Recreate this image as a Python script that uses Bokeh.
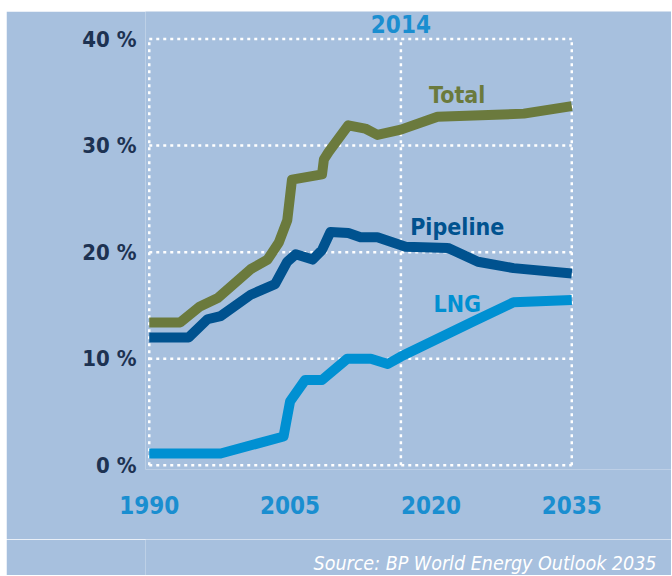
from bokeh.plotting import figure
from bokeh.models import Range1d, FixedTicker, Spacer, Column, Row
from bokeh.embed import file_html
from bokeh.resources import INLINE
from bokeh.core.properties import value

# ---- data (share of traded gas, % ) ----
total_years = [1990, 1993.3, 1995.4, 1997.3, 2000.8, 2002.6, 2003.8, 2004.7, 2005.2,
               2008.4, 2008.6, 2009.1, 2011.2, 2013.0, 2014.3, 2016.8, 2020.7, 2029.9, 2035]
total_vals = [13.4, 13.4, 14.9, 15.7, 18.4, 19.3, 20.9, 23.0, 26.8,
              27.3, 28.7, 29.4, 31.9, 31.6, 31.0, 31.5, 32.7, 33.0, 33.7]

pipeline_years = [1990, 1994.2, 1996.2, 1997.6, 2000.8, 2003.4, 2004.7, 2005.6, 2007.4,
                  2008.4, 2009.3, 2011.2, 2012.5, 2014.3, 2017.3, 2021.8, 2025.0, 2028.8, 2035]
pipeline_vals = [12.0, 12.0, 13.7, 14.0, 16.0, 17.0, 19.1, 19.8, 19.3,
                 20.2, 21.9, 21.8, 21.4, 21.4, 20.5, 20.4, 19.1, 18.5, 18.0]

lng_years = [1990, 1997.6, 2004.3, 2005.0, 2006.6, 2008.4, 2011.1, 2013.6, 2015.4,
             2016.8, 2024.5, 2028.8, 2035]
lng_vals = [1.1, 1.1, 2.7, 6.0, 8.0, 8.0, 10.0, 10.0, 9.5,
            10.2, 13.5, 15.3, 15.5]

x_ticks = [1990, 2005, 2020, 2035]
y_ticks = [0, 10, 20, 30, 40]
y_tick_labels = ["0 %", "10 %", "20 %", "30 %", "40 %"]
divider_label = "2014"
divider_x = 2016.8  # where the chart draws its "2014" divider
source_text = "Source: BP World Energy Outlook 2035"

# ---- styles ----
BG = "#a7c0de"
C_TOTAL = "#6b7a3d"
C_PIPE = "#00528f"
C_LNG = "#0090d2"
C_YLAB = "#1d3252"
C_XLAB = "#1a8ed0"
FONT = "DejaVu Sans Condensed"
DASH = "3 4"

# frame runs to the right edge of the panel; the visible plot ends at 2035
p = figure(width=665, height=528, output_backend="svg", toolbar_location=None,
           x_range=Range1d(1989.6, 2045.62), y_range=Range1d(-0.4, 42.585),
           min_border_left=139, min_border_right=0, min_border_top=0, min_border_bottom=70)
p.background_fill_color = BG
p.border_fill_color = BG
p.outline_line_color = None
p.grid.visible = False

# dotted grid
x0, x1 = x_ticks[0], x_ticks[-1]
p.segment(x0=[x0] * len(y_ticks), x1=[x1] * len(y_ticks), y0=y_ticks, y1=y_ticks,
          line_color="white", line_width=2.5, line_dash=DASH)
vx = [x0, divider_x, x1]
p.segment(x0=vx, x1=vx, y0=[y_ticks[0]] * 3, y1=[y_ticks[-1]] * 3,
          line_color="white", line_width=2.5, line_dash=DASH)

# series
p.line(lng_years, lng_vals, line_color=C_LNG, line_width=10, line_join="round")
p.line(pipeline_years, pipeline_vals, line_color=C_PIPE, line_width=10, line_join="round")
p.line(total_years, total_vals, line_color=C_TOTAL, line_width=10, line_join="round")

# series labels
lab = dict(text_align="center", text_baseline="alphabetic", text_font=value(FONT),
           text_font_style="bold", text_font_size="23px")
p.text(x=[2022.8], y=[34.75], text=["Total"], text_color=C_TOTAL, **lab)
p.text(x=[2022.8], y=[22.35], text=["Pipeline"], text_color=C_PIPE, **lab)
p.text(x=[2022.8], y=[15.15], text=["LNG"], text_color=C_LNG, **lab)

# divider label above the top grid line
p.text(x=[divider_x], y=[41.41], text=[divider_label], text_color=C_XLAB,
       text_align="center", text_baseline="alphabetic", text_font=value(FONT),
       text_font_style="bold", text_font_size="24px")

# axes
p.yaxis.ticker = FixedTicker(ticks=y_ticks)
p.yaxis.major_label_overrides = {t: l for t, l in zip(y_ticks, y_tick_labels)}
p.yaxis.axis_line_color = None
p.yaxis.major_tick_line_color = None
p.yaxis.minor_tick_line_color = None
p.yaxis.major_label_standoff = 3
p.yaxis.major_label_text_font = FONT
p.yaxis.major_label_text_font_style = "bold"
p.yaxis.major_label_text_font_size = "22px"
p.yaxis.major_label_text_color = C_YLAB

p.xaxis.ticker = FixedTicker(ticks=x_ticks)
p.xaxis.axis_line_color = None
p.xaxis.major_tick_line_color = None
p.xaxis.minor_tick_line_color = None
p.xaxis.major_label_standoff = 20
p.xaxis.major_label_text_font = FONT
p.xaxis.major_label_text_font_style = "bold"
p.xaxis.major_label_text_font_size = "24px"
p.xaxis.major_label_text_color = C_XLAB

# source note strip (pixel-unit ranges, frame aligned with the chart above)
foot = figure(width=665, height=36, output_backend="svg", toolbar_location=None,
              x_range=Range1d(0, 526), y_range=Range1d(0, 36),
              min_border_left=139, min_border_right=0, min_border_top=0, min_border_bottom=0)
foot.background_fill_color = BG
foot.border_fill_color = BG
foot.outline_line_color = None
foot.axis.visible = False
foot.grid.visible = False
foot.text(x=[511], y=[12], text=[source_text], text_color="white", text_align="right",
          text_baseline="alphabetic", text_font=value(FONT), text_font_style="italic",
          text_font_size="19.5px")

layout = Row(Spacer(width=6), Column(Spacer(height=11), p, foot, spacing=0), spacing=0)
open("out.html", "w").write(file_html(layout, INLINE))
